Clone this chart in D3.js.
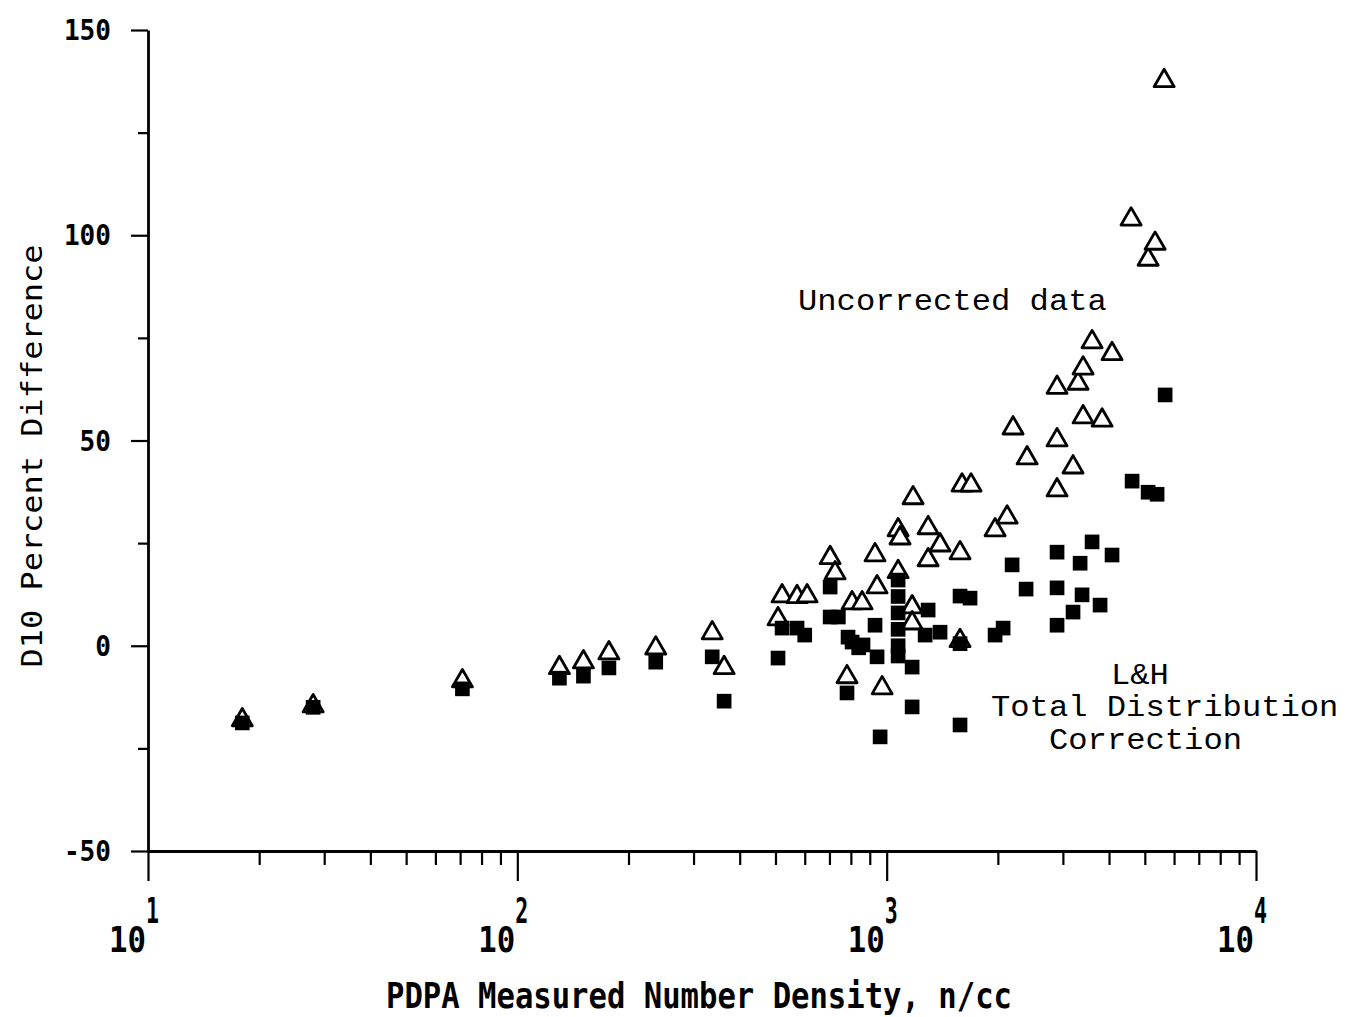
<!DOCTYPE html>
<html><head><meta charset="utf-8">
<script src="https://cdn.jsdelivr.net/npm/d3@7"></script>
<style>body{margin:0;background:#fff} svg{display:block}</style>
</head><body><svg id="c" width="1349" height="1017"></svg>
<script>
// Uncorrected data (open triangles)
const uncorrectedX = [18, 28, 71, 130, 151, 177, 237, 337, 363, 508, 521, 572, 609, 703, 725, 781, 806, 858, 930, 942, 972, 1074, 1074, 1087, 1179, 1172, 1172, 1295, 1295, 1395, 1580, 1580, 1600, 1692, 1966, 2119, 2199, 2400, 2893, 2893, 2893, 3196, 3298, 3403, 3403, 3599, 3831, 4076, 4590, 5104, 5331, 5640];
const uncorrectedY = [-18.1, -14.7, -8.6, -5.4, -4.0, -1.8, -0.6, 3.1, -5.4, 6.5, 12.1, 11.9, 12.1, 21.4, 17.7, -7.6, 10.4, 10.4, 22.1, 14.3, -10.3, 18.0, 28.2, 26.2, 36.0, 9.4, 5.5, 28.7, 20.9, 24.5, 22.6, 1.2, 39.1, 39.1, 28.2, 31.3, 53.0, 45.7, 62.9, 50.1, 37.9, 43.5, 63.9, 67.6, 55.7, 74.0, 54.9, 71.1, 103.9, 94.1, 98.0, 137.6];
// L&H total distribution correction (filled squares)
const correctedX = [18, 28, 71, 130, 151, 177, 237, 337, 363, 508, 521, 572, 600, 703, 703, 740, 781, 786, 806, 840, 863, 930, 942, 960, 1074, 1074, 1074, 1074, 1074, 1074, 1172, 1172, 1295, 1271, 1395, 1580, 1682, 1580, 1580, 1966, 2067, 2186, 2385, 2893, 2893, 2893, 3196, 3340, 3381, 3599, 3783, 4076, 4619, 5104, 5398, 5675];
const correctedY = [-18.8, -15.0, -10.5, -7.9, -7.4, -5.4, -4.0, -2.7, -13.5, -3.0, 4.3, 4.3, 2.6, 14.3, 7.0, 7.0, -11.5, 2.1, 0.9, -0.5, 0.2, 5.0, -2.7, -22.2, 16.0, 12.0, 8.0, 4.0, 0.0, -2.5, -5.2, -14.9, 8.7, 2.6, 3.3, 12.1, 11.6, 0.5, -19.3, 2.6, 4.3, 19.7, 13.8, 22.8, 14.1, 5.0, 8.2, 20.1, 12.4, 25.3, 9.9, 22.1, 40.1, 37.4, 36.9, 61.1];

const yMajorTicks = [-50, 0, 50, 100, 150];
const yMinorTicks = [-25, 25, 75, 125];
const yTickLabels = ["-50", "0", "50", "100", "150"];
const xDecades = [10, 100, 1000, 10000];
const xExponents = ["1", "2", "3", "4"];
const xMinorTicks = [];
[10, 100, 1000].forEach(d => { for (let k = 2; k <= 9; k++) xMinorTicks.push(d * k); });

const svg = d3.select("#c");
const x = d3.scaleLog().domain([10, 10000]).range([148, 1256]);
const y = d3.scaleLinear().domain([-50, 150]).range([851, 30]);

const axStyle = g => { g.selectAll("path,line").attr("stroke", "#000").attr("stroke-width", 2.2); g.selectAll("text").remove(); };

// X axis
svg.append("g").attr("transform", `translate(0,${y(-50)})`)
  .call(d3.axisBottom(x).tickValues(xMinorTicks).tickSize(14).tickSizeOuter(0).tickFormat(""))
  .call(axStyle).call(g => g.select(".domain").attr("stroke-width", 2.8));
svg.append("g").attr("transform", `translate(0,${y(-50)})`)
  .call(d3.axisBottom(x).tickValues(xDecades).tickSize(30).tickSizeOuter(0).tickFormat(""))
  .call(axStyle).call(g => g.select(".domain").remove());

// Y axis
svg.append("g").attr("transform", `translate(${x(10)},0)`)
  .call(d3.axisLeft(y).tickValues(yMajorTicks).tickSize(17).tickSizeOuter(0).tickFormat(""))
  .call(axStyle).call(g => g.select(".domain").attr("stroke-width", 2.8));
svg.append("g").attr("transform", `translate(${x(10)},0)`)
  .call(d3.axisLeft(y).tickValues(yMinorTicks).tickSize(10).tickSizeOuter(0).tickFormat(""))
  .call(axStyle).call(g => g.select(".domain").remove());

// Y tick labels
svg.append("g").selectAll("text").data(yMajorTicks).join("text")
  .attr("x", 111).attr("y", d => y(d) + 10)
  .attr("text-anchor", "end")
  .attr("font-family", "DejaVu Sans Mono").attr("font-weight", "bold").attr("font-size", 28)
  .attr("textLength", (d, i) => yTickLabels[i].length * 15.7).attr("lengthAdjust", "spacingAndGlyphs")
  .text((d, i) => yTickLabels[i]);

// X tick labels 10^n
const xl = svg.append("g");
xl.selectAll("text.b").data(xDecades).join("text").attr("class", "b")
  .attr("x", d => x(d) - 2).attr("y", 952)
  .attr("text-anchor", "end")
  .attr("font-family", "DejaVu Sans Mono").attr("font-weight", "bold").attr("font-size", 35)
  .attr("textLength", 37).attr("lengthAdjust", "spacingAndGlyphs")
  .text("10");
xl.selectAll("text.e").data(xDecades).join("text").attr("class", "e")
  .attr("x", d => x(d) - 2).attr("y", 923)
  .attr("font-family", "DejaVu Sans Mono").attr("font-weight", "bold").attr("font-size", 36)
  .attr("textLength", 13).attr("lengthAdjust", "spacingAndGlyphs")
  .text((d, i) => xExponents[i]);

// Axis titles
svg.append("text").attr("x", 699).attr("y", 1008).attr("text-anchor", "middle")
  .attr("font-family", "DejaVu Sans Mono").attr("font-weight", "bold").attr("font-size", 35)
  .attr("textLength", 626).attr("lengthAdjust", "spacingAndGlyphs")
  .text("PDPA Measured Number Density, n/cc");
svg.append("text").attr("transform", "translate(42,456) rotate(-90)").attr("text-anchor", "middle")
  .attr("font-family", "DejaVu Sans Mono").attr("font-size", 28)
  .attr("textLength", 423).attr("lengthAdjust", "spacingAndGlyphs")
  .text("D10 Percent Difference");

// Data
const tri = d3.symbol().type(d3.symbolTriangle).size(175);
const sq = d3.symbol().type(d3.symbolSquare).size(215);
svg.append("g").selectAll("path").data(uncorrectedX.map((v, i) => [v, uncorrectedY[i]])).join("path")
  .attr("d", tri).attr("transform", d => `translate(${x(d[0])},${y(d[1])})`)
  .attr("fill", "#fff").attr("stroke", "#000").attr("stroke-width", 2.8).attr("stroke-linejoin", "round");
svg.append("g").selectAll("path").data(correctedX.map((v, i) => [v, correctedY[i]])).join("path")
  .attr("d", sq).attr("transform", d => `translate(${x(d[0])},${y(d[1])})`)
  .attr("fill", "#000");

// Annotations
const ann = [
  {t: "Uncorrected data", x: 798, y: 310},
  {t: "L&H", x: 1111, y: 684},
  {t: "Total Distribution", x: 991, y: 716},
  {t: "Correction", x: 1049, y: 749}
];
svg.append("g").selectAll("text").data(ann).join("text")
  .attr("x", d => d.x).attr("y", d => d.y)
  .attr("font-family", "Liberation Mono").attr("font-size", 30)
  .attr("textLength", d => d.t.length * 19.3).attr("lengthAdjust", "spacingAndGlyphs")
  .text(d => d.t);
</script></body></html>
